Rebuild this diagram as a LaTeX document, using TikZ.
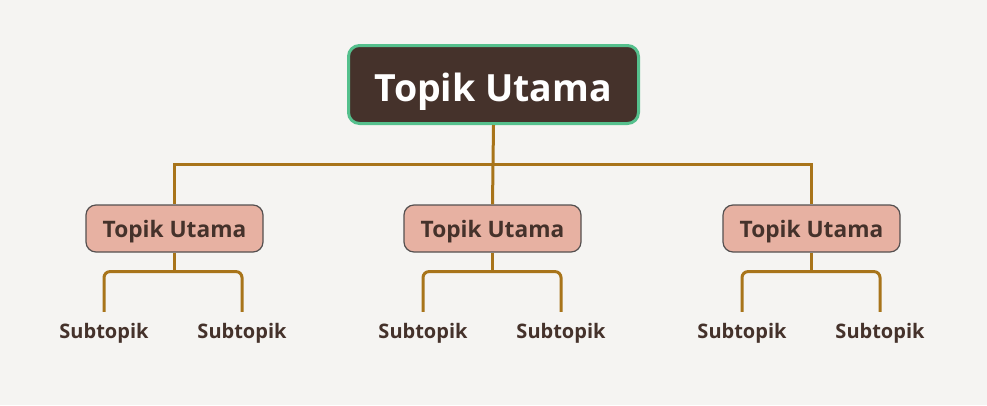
\documentclass[tikz,border=0pt]{standalone}
\usepackage{fontspec}
\setmainfont{Open Sans}
\usetikzlibrary{calc}
\definecolor{bgc}{HTML}{F5F4F2}
\definecolor{mainfill}{HTML}{45322B}
\definecolor{mainborder}{HTML}{55C08D}
\definecolor{connc}{HTML}{A8741A}
\definecolor{subfill}{HTML}{E7B1A2}
\definecolor{subborder}{HTML}{555050}
\definecolor{txtc}{HTML}{45322B}
\tikzset{
  x=1pt, y=-1pt,
  mainbox/.style={draw=mainborder, line width=3pt, fill=mainfill, rounded corners=11pt,
    minimum width=290pt, minimum height=78pt, inner sep=0pt,
    text height=33pt, text depth=0pt,
    text=white, font=\fontsize{37.5}{44}\selectfont\bfseries},
  subbox/.style={draw=subborder, line width=1.2pt, fill=subfill, rounded corners=10pt,
    minimum width=177pt, minimum height=47pt, inner sep=0pt,
    text height=18pt, text depth=0pt,
    text=txtc, font=\fontsize{22.7}{27}\selectfont\bfseries},
  leaf/.style={text=txtc, font=\fontsize{20}{24}\selectfont\bfseries,
    anchor=base, text height=15pt, text depth=5pt, inner xsep=0pt, inner ysep=11pt},
  conn/.style={draw=connc, line width=3pt},
  bracket/.style={conn, rounded corners=6pt},
}
\begin{document}
\begin{tikzpicture}
\fill[bgc] (0,0) rectangle (987,405);
\useasboundingbox (0,0) rectangle (987,405);

\node[mainbox] (main) at (493.5,84.5) {Topik Utama};

\node[subbox] (s1) at (174.5,228.5) {Topik Utama};
\node[subbox] (s2) at (492.5,228.5) {Topik Utama};
\node[subbox] (s3) at (811.5,228.5) {Topik Utama};

\node[leaf] (t11) at (104,338) {Subtopik};
\node[leaf] (t12) at (242,338) {Subtopik};
\node[leaf] (t21) at (423,338) {Subtopik};
\node[leaf] (t22) at (561,338) {Subtopik};
\node[leaf] (t31) at (742,338) {Subtopik};
\node[leaf] (t32) at (880,338) {Subtopik};

\coordinate (j) at (493.5,164);
\draw[conn] (main.south) -- (s2.north);
\draw[conn] (s1.north) |- (j) -| (s3.north);

\foreach \s/\a/\b in {s1/t11/t12, s2/t21/t22, s3/t31/t32}{
  \coordinate (\s b) at ($(\s.south)+(0,19)$);
  \draw[conn] (\s.south) -- (\s b);
  \draw[bracket] (\a.north) |- (\s b) -| (\b.north);
}
\end{tikzpicture}
\end{document}
